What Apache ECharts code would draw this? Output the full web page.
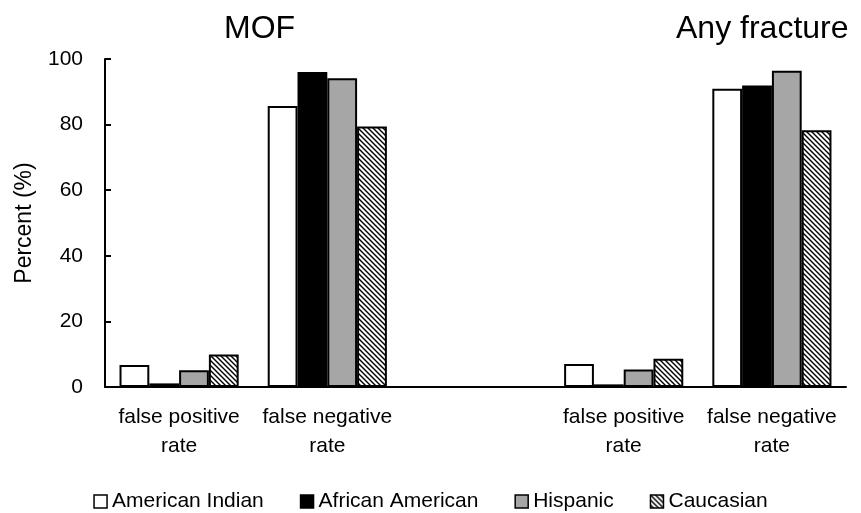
<!DOCTYPE html>
<html>
<head>
<meta charset="utf-8">
<script src="https://cdn.jsdelivr.net/npm/echarts@6/dist/echarts.min.js"></script>
<style>html,body{margin:0;padding:0;background:#fff}#c{width:861px;height:513px}</style>
</head>
<body>
<div id="c"></div>
<script>
var categories = ['false positive\nrate', 'false negative\nrate', '', 'false positive\nrate', 'false negative\nrate'];
var panelTitles = ['MOF', 'Any fracture'];
var seriesNames = ['American Indian', 'African American', 'Hispanic', 'Caucasian'];
var americanIndian = [6.7, 85.7, null, 7.0, 90.9];
var africanAmerican = [1.1, 96.0, null, 0.8, 91.9];
var hispanic = [5.1, 94.1, null, 5.3, 96.4];
var caucasian = [9.9, 79.4, null, 8.6, 78.3];
var yTicks = [0, 20, 40, 60, 80, 100];

var FONT = 'Liberation Sans';

function hatch() {
  var s = 5;
  var cv = document.createElement('canvas');
  cv.width = s; cv.height = s;
  var ctx = cv.getContext('2d');
  ctx.fillStyle = '#ffffff';
  ctx.fillRect(0, 0, s, s);
  ctx.strokeStyle = '#000000';
  ctx.lineWidth = 1.4;
  for (var k = -1; k <= 1; k++) {
    ctx.beginPath();
    ctx.moveTo(-1, -1 + k * s);
    ctx.lineTo(s + 1, s + 1 + k * s);
    ctx.stroke();
  }
  return { image: cv, repeat: 'repeat' };
}

var fills = ['#ffffff', '#000000', '#a6a6a6', hatch()];
var dataSets = [americanIndian, africanAmerican, hispanic, caucasian];

var chart = echarts.init(document.getElementById('c'), null, { renderer: 'canvas' });
chart.setOption({
  animation: false,
  backgroundColor: '#ffffff',
  textStyle: { fontFamily: FONT },
  graphic: [
    { type: 'text', left: 259 - 35, top: 13, style: { text: panelTitles[0], font: '32px "' + FONT + '"', fill: '#000' } },
    { type: 'text', left: 768 - 92, top: 13, style: { text: panelTitles[1], font: '32px "' + FONT + '"', fill: '#000' } }
  ],
  grid: { left: 105, right: 15, top: 59, bottom: 126, containLabel: false },
  legend: {
    top: 486,
    left: 'center',
    icon: 'rect',
    itemWidth: 13,
    itemHeight: 13,
    itemGap: 36,
    textStyle: { fontFamily: FONT, fontSize: 21, color: '#000' },
    itemStyle: { borderColor: '#000', borderWidth: 1.5 },
    data: seriesNames
  },
  xAxis: {
    type: 'category',
    data: categories,
    axisTick: { show: false },
    axisLine: { lineStyle: { color: '#000', width: 2 } },
    axisLabel: { color: '#000', fontSize: 21, fontFamily: FONT, lineHeight: 29, margin: 16, interval: 0 }
  },
  yAxis: {
    type: 'value',
    min: yTicks[0],
    max: yTicks[yTicks.length - 1],
    interval: yTicks[1] - yTicks[0],
    name: 'Percent (%)',
    nameLocation: 'middle',
    nameGap: 69,
    nameTextStyle: { color: '#000', fontSize: 23, fontFamily: FONT },
    axisLine: { show: true, lineStyle: { color: '#000', width: 2 } },
    axisTick: { show: true, inside: true, length: 6, lineStyle: { color: '#000', width: 2 } },
    splitLine: { show: false },
    axisLabel: { color: '#000', fontSize: 21, fontFamily: FONT, margin: 22 }
  },
  series: seriesNames.map(function (n, i) {
    return {
      name: n,
      type: 'bar',
      data: dataSets[i],
      barGap: '0%',
      barCategoryGap: '19.6%',
      itemStyle: { color: fills[i], borderColor: '#000', borderWidth: 2 }
    };
  })
});
</script>
</body>
</html>
